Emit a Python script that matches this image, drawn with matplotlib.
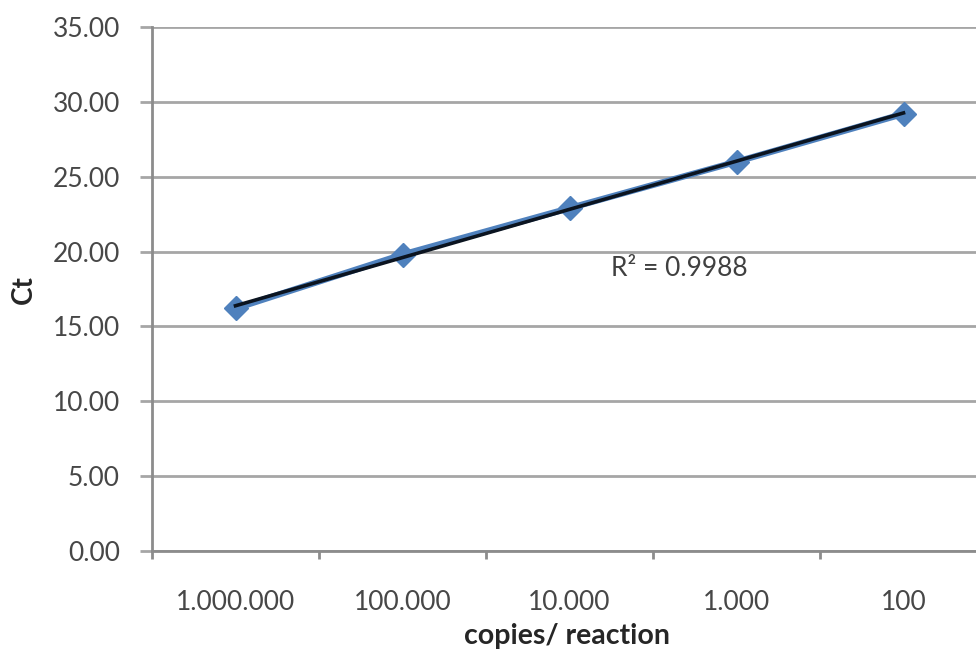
import numpy as np
import matplotlib
matplotlib.use("Agg")
import matplotlib.pyplot as plt

# standard curve data
copies = ["1.000.000", "100.000", "10.000", "1.000", "100"]
ct_values = [16.2, 19.8, 22.9, 26.0, 29.2]
r_squared = "0.9988"

plt.rcParams["font.family"] = ["Lato", "DejaVu Sans"]

fig = plt.figure(figsize=(9.76, 6.5), dpi=100)
ax = fig.add_axes([152 / 976, 1 - 551 / 650, 835 / 976, 524 / 650])

x = np.arange(len(copies))

# data series
ax.plot(x, ct_values, color="#4F81BD", linewidth=4.5, marker="D",
        markersize=12, markerfacecolor="#4F81BD", markeredgecolor="#4F81BD",
        zorder=3)

# linear trendline
slope, intercept = np.polyfit(x, ct_values, 1)
ax.plot(x, slope * x + intercept, color="#0b1420", linewidth=2.6, zorder=4)

ax.text(2.66, 18.9, "R² = " + r_squared, fontsize=19, color="#404040",
        ha="center", va="center")

ax.set_xlim(-0.5, 4.5)
ax.set_ylim(0, 35)
ax.set_yticks(np.arange(0, 36, 5))
ax.set_yticklabels([f"{v:.2f}" for v in np.arange(0, 36, 5)])
ax.set_xticks(x)
ax.set_xticklabels(copies)
ax.set_xticks(np.arange(-0.5, 5, 1), minor=True)

ax.grid(axis="y", color="#a6a6a6", linewidth=2)
ax.set_axisbelow(True)

for side in ["top", "right"]:
    ax.spines[side].set_visible(False)
for side in ["left", "bottom"]:
    ax.spines[side].set_color("#8c8c8c")
    ax.spines[side].set_linewidth(2)

ax.tick_params(axis="y", length=9, width=2, color="#a6a6a6",
               labelsize=19, labelcolor="#474747", pad=14)
ax.tick_params(axis="x", which="major", length=0, labelsize=19,
               labelcolor="#474747", pad=28)
ax.tick_params(axis="x", which="minor", length=6, width=2, color="#8c8c8c")

ax.set_xlabel("copies/ reaction", fontsize=20.5, fontweight="bold",
              color="#262626")
ax.xaxis.set_label_coords((567 - 152) / 835, -(623 - 551) / 524)
ax.set_ylabel("Ct", fontsize=20, fontweight="bold", color="#262626")
ax.yaxis.set_label_coords(-(152 - 37) / 835, (551 - 290) / 524)

fig.savefig("out.png", dpi=100)
